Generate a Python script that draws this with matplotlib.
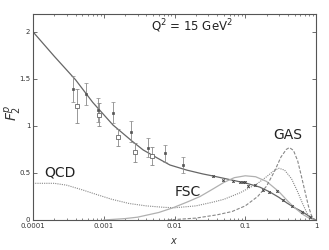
import matplotlib
matplotlib.use("Agg")
import matplotlib.pyplot as plt
from matplotlib.ticker import LogLocator, NullFormatter, FixedLocator

# Total fit curve
tot_x = [1e-4, 2e-4, 4e-4, 7e-4, 1.35e-3, 2.5e-3, 3.6e-3, 6e-3, 8.6e-3, 0.015, 0.025, 0.035,
         0.06, 0.105, 0.16, 0.22, 0.3, 0.39, 0.5, 0.65, 0.8, 0.9, 1.0]
tot_y = [2.0, 1.74, 1.49, 1.25, 1.01, 0.84, 0.745, 0.65, 0.585, 0.53, 0.49, 0.468,
         0.43, 0.39, 0.35, 0.30, 0.24, 0.18, 0.13, 0.085, 0.04, 0.015, 0.0]

# QCD component
qcd_x = [1e-4, 2e-4, 3e-4, 5e-4, 8e-4, 1.3e-3, 2.3e-3, 4e-3, 7e-3, 0.01, 0.02, 0.035, 0.05,
         0.085, 0.15, 0.2, 0.26, 0.3, 0.36, 0.45, 0.55, 0.65, 0.75, 0.85, 0.95, 1.0]
qcd_y = [0.39, 0.39, 0.37, 0.32, 0.27, 0.22, 0.175, 0.15, 0.135, 0.13, 0.15, 0.19, 0.22,
         0.29, 0.39, 0.46, 0.53, 0.55, 0.53, 0.44, 0.30, 0.17, 0.07, 0.02, 0.003, 0.0]

# FSC component
fsc_x = [1e-3, 2e-3, 3e-3, 6e-3, 9.5e-3, 0.015, 0.023, 0.035, 0.05, 0.07, 0.1, 0.14, 0.2,
         0.3, 0.4, 0.5, 0.65, 0.8, 1.0]
fsc_y = [0.0, 0.015, 0.03, 0.08, 0.13, 0.19, 0.25, 0.33, 0.40, 0.45, 0.47, 0.46, 0.41,
         0.30, 0.20, 0.13, 0.06, 0.02, 0.0]

# GAS component
gas_x = [8e-3, 0.02, 0.04, 0.065, 0.1, 0.15, 0.2, 0.26, 0.32, 0.38, 0.42, 0.48, 0.55,
         0.62, 0.7, 0.78, 0.86, 0.93, 1.0]
gas_y = [0.0, 0.02, 0.055, 0.09, 0.15, 0.25, 0.36, 0.52, 0.67, 0.75, 0.77, 0.74, 0.63,
         0.47, 0.30, 0.15, 0.05, 0.01, 0.0]

# Data: open squares
sq_x = [0.00042, 0.00086, 0.0016, 0.0028, 0.0048]
sq_y = [1.21, 1.12, 0.88, 0.72, 0.68]
sq_e = [0.18, 0.12, 0.09, 0.10, 0.10]

# Data: filled points
fl_x = [0.00037, 0.00056, 0.00083, 0.00135, 0.0024, 0.0042, 0.0073, 0.013]
fl_y = [1.39, 1.34, 1.17, 1.14, 0.94, 0.77, 0.71, 0.585]
fl_e = [0.14, 0.12, 0.125, 0.11, 0.11, 0.10, 0.09, 0.085]

# Data: high-x points
hx_x = [0.035, 0.048, 0.067, 0.085, 0.093, 0.1, 0.11, 0.137, 0.18, 0.22, 0.28, 0.34,
        0.46, 0.63, 0.81]
hx_y = [0.47, 0.42, 0.41, 0.40, 0.40, 0.40, 0.36, 0.37, 0.32, 0.30, 0.31, 0.21,
        0.15, 0.085, 0.03]
hx_e = [0.012, 0.01, 0.01, 0.01, 0.01, 0.01, 0.01, 0.01, 0.01, 0.01, 0.01, 0.01,
        0.01, 0.01, 0.01]

xticks = [1e-4, 1e-3, 1e-2, 1e-1, 1]
xticklabels = ["0.0001", "0.001", "0.01", "0.1", "1"]
yticks = [0, 0.5, 1, 1.5, 2]
yticklabels = ["0", "0.5", "1", "1.5", "2"]

fig = plt.figure(figsize=(3.29, 2.5), dpi=100)
ax = fig.add_axes([0.1003, 0.12, 0.8602, 0.824])

ax.plot(tot_x, tot_y, color="#666666", lw=0.9)
ax.plot(qcd_x, qcd_y, color="#888888", lw=0.8, ls=(0, (1, 1)))
ax.plot(fsc_x, fsc_y, color="#b0b0b0", lw=0.9)
ax.plot(gas_x, gas_y, color="#888888", lw=0.8, ls=(0, (3, 1.5)))

ax.errorbar(sq_x, sq_y, yerr=sq_e, fmt="s", ms=3, mfc="white", mec="#666666", mew=0.6,
            ecolor="#888888", elinewidth=0.6, capsize=1.5, capthick=0.6)
ax.errorbar(fl_x, fl_y, yerr=fl_e, fmt="s", ms=2.0, mfc="#555555", mec="#555555", mew=0.5,
            ecolor="#888888", elinewidth=0.6, capsize=1.5, capthick=0.6)
ax.errorbar(hx_x, hx_y, yerr=hx_e, fmt="x", ms=1.8, mec="#444444", mew=0.6,
            ecolor="#888888", elinewidth=0.5, capsize=1, capthick=0.5)

ax.set_xscale("log")
ax.set_xlim(1e-4, 1)
ax.set_ylim(0, 2.19)
ax.xaxis.set_major_locator(FixedLocator(xticks))
ax.set_xticklabels(xticklabels)
ax.xaxis.set_minor_locator(LogLocator(base=10, subs=range(2, 10)))
ax.xaxis.set_minor_formatter(NullFormatter())
ax.set_yticks(yticks)
ax.set_yticklabels(yticklabels)

ax.tick_params(which="both", direction="in", top=True, right=True, labelsize=5,
               color="#555555", labelcolor="#333333", pad=2)
ax.tick_params(which="major", length=3, width=0.6)
ax.tick_params(which="minor", length=1.5, width=0.5)
for s in ax.spines.values():
    s.set_color("#555555")
    s.set_linewidth(0.8)

ax.set_xlabel("$x$", fontsize=7, labelpad=5, color="#333333")
ax.set_ylabel("$F_2^p$", fontsize=10, color="#333333", va="center")
ax.yaxis.set_label_coords(-0.07, 0.52)

ax.text(0.0177, 2.06, "Q$^2$ = 15 GeV$^2$", fontsize=8.5, ha="center", va="center", color="#222222")
ax.text(0.00024, 0.5, "QCD", fontsize=10, ha="center", va="center", color="#222222")
ax.text(0.0155, 0.30, "FSC", fontsize=10, ha="center", va="center", color="#222222")
ax.text(0.40, 0.90, "GAS", fontsize=10, ha="center", va="center", color="#222222")

fig.savefig("out.png", dpi=100)
